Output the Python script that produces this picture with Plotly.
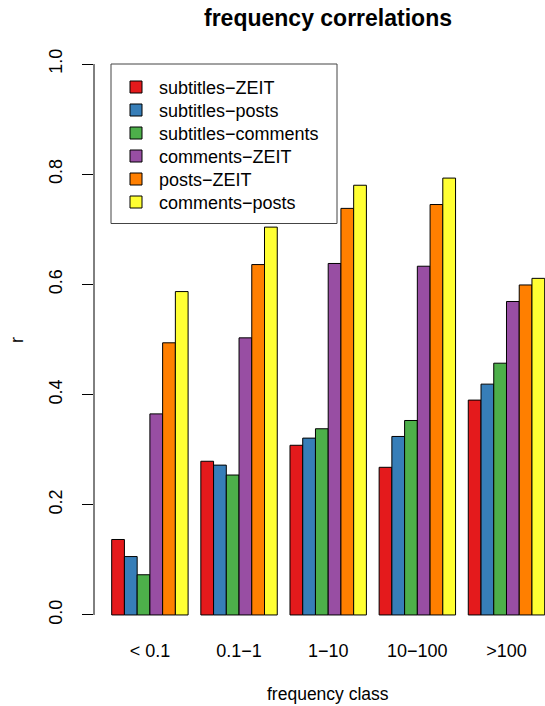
import plotly.graph_objects as go

categories = ["< 0.1", "0.1−1", "1−10", "10−100", ">100"]
series_names = ["subtitles−ZEIT", "subtitles−posts", "subtitles−comments",
                "comments−ZEIT", "posts−ZEIT", "comments−posts"]
subtitles_zeit = [0.137, 0.279, 0.308, 0.268, 0.390]
subtitles_posts = [0.106, 0.272, 0.321, 0.324, 0.419]
subtitles_comments = [0.073, 0.254, 0.338, 0.353, 0.457]
comments_zeit = [0.365, 0.503, 0.638, 0.633, 0.569]
posts_zeit = [0.494, 0.636, 0.738, 0.745, 0.599]
comments_posts = [0.587, 0.704, 0.780, 0.793, 0.611]
series_values = [subtitles_zeit, subtitles_posts, subtitles_comments,
                 comments_zeit, posts_zeit, comments_posts]
colors = ["#E41A1C", "#377EB8", "#4DAF4A", "#984EA3", "#FF7F00", "#FFFF33"]
y_ticks = [0.0, 0.2, 0.4, 0.6, 0.8, 1.0]
y_ticklabels = ["0.0", "0.2", "0.4", "0.6", "0.8", "1.0"]

FONT = "Liberation Sans, Arial, Helvetica, sans-serif"
W, H = 545, 706
ML, MR, MT, MB = 94, 0, 42, 69
PW, PH = W - ML - MR, H - MT - MB


def px_x(px):
    return (px - ML) / PW


def px_y(py):
    return (H - MB - py) / PH


fig = go.Figure()
legend_layouts = {}
leg_x = px_x(113)
leg_top, leg_step = 87.3, 23.0
for i, (name, vals, col) in enumerate(zip(series_names, series_values, colors)):
    lname = "legend" if i == 0 else f"legend{i + 1}"
    fig.add_trace(go.Bar(
        x=categories, y=vals, name=name, legend=lname,
        marker=dict(color=col, line=dict(color="black", width=1)),
    ))
    legend_layouts[lname] = dict(
        x=leg_x, y=px_y(leg_top + i * leg_step), xanchor="left", yanchor="middle",
        borderwidth=0, bgcolor="rgba(0,0,0,0)",
        font=dict(family=FONT, size=18, color="black"),
        itemwidth=36,
    )

fig.update_layout(
    width=W, height=H,
    margin=dict(l=ML, r=MR, t=MT, b=MB),
    paper_bgcolor="white", plot_bgcolor="white",
    barmode="group", bargap=1/7, bargroupgap=0,
    font=dict(family=FONT, size=18, color="black"),
    showlegend=True,
    xaxis=dict(
        type="category", range=[-0.627, 4.432],
        showline=False, showgrid=False, zeroline=False,
        ticks="", tickfont=dict(family=FONT, size=18, color="black"),
        ticklabelstandoff=1,
    ),
    yaxis=dict(
        range=[-0.04, 1.04],
        tickvals=y_ticks, ticktext=y_ticklabels,
        ticks="outside", ticklen=11, tickwidth=1, tickcolor="black",
        tickangle=-90, ticklabelstandoff=13,
        tickfont=dict(family=FONT, size=18, color="black"),
        showline=False, showgrid=False, zeroline=False,
    ),
    shapes=[
        dict(type="line", xref="paper", yref="y", x0=0, x1=0, y0=0, y1=1,
             line=dict(color="black", width=1)),
        dict(type="rect", xref="paper", yref="paper",
             x0=px_x(111), x1=px_x(337), y0=px_y(223.5), y1=px_y(64),
             line=dict(color="#444444", width=1), fillcolor="rgba(0,0,0,0)",
             layer="above"),
    ],
    annotations=[
        dict(text="<b>frequency correlations</b>", xref="paper", yref="paper",
             x=px_x(328), y=px_y(18), xanchor="center", yanchor="middle", showarrow=False,
             font=dict(family=FONT, size=23, color="black")),
        dict(text="frequency class", xref="paper", yref="paper",
             x=px_x(328), y=px_y(694), xanchor="center", yanchor="middle", showarrow=False,
             font=dict(family=FONT, size=17.5, color="black")),
        dict(text="r", xref="paper", yref="paper", textangle=-90,
             x=px_x(17), y=px_y(340), xanchor="center", yanchor="middle", showarrow=False,
             font=dict(family=FONT, size=18, color="black")),
    ],
)
fig.update_layout(**legend_layouts)

fig.write_html("out.html", config={"displayModeBar": False},
               post_script="document.body.style.margin='0px';document.body.style.overflow='hidden';")
